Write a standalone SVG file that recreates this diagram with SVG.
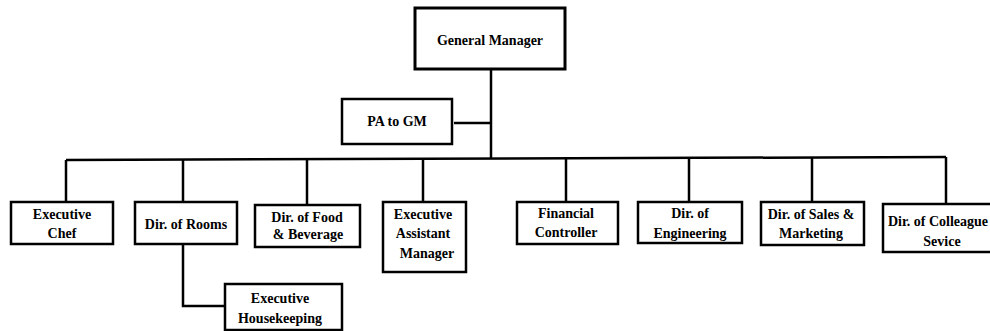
<svg xmlns="http://www.w3.org/2000/svg" width="990" height="331" viewBox="0 0 990 331">
<style>
.box{fill:#fff;stroke:#000;stroke-width:2.5}
.gm{stroke-width:3}
.ln{fill:none;stroke:#000;stroke-width:2.5}
text{font-family:"Liberation Serif","Times New Roman",serif;font-weight:bold;font-size:14px;fill:#000;text-anchor:middle}
</style>
<rect width="990" height="331" fill="#fff"/>
<g id="connectors">
<path class="ln" d="M491 69 V158.5"/>
<path class="ln" d="M454 123 H491"/>
<path class="ln" d="M66 160 L946 157"/>
<path class="ln" d="M66 160 V202"/>
<path class="ln" d="M183 160 V202"/>
<path class="ln" d="M307 159.5 V205"/>
<path class="ln" d="M423 159 V202"/>
<path class="ln" d="M566 158.5 V202"/>
<path class="ln" d="M689 158 V202"/>
<path class="ln" d="M812 157.5 V202"/>
<path class="ln" d="M946 157 V203"/>
<path class="ln" d="M183 244 V306 H225"/>
</g>
<g id="gm"><rect class="box gm" x="415" y="8" width="150" height="61"/><text x="490" y="45">General Manager</text></g>
<g id="pa"><rect class="box" x="342" y="99" width="110" height="45"/><text x="397" y="126">PA to GM</text></g>
<g id="chef"><rect class="box" x="11" y="202" width="102" height="42"/><text x="62" y="219">Executive</text><text x="62" y="238">Chef</text></g>
<g id="rooms"><rect class="box" x="135" y="202" width="102" height="42"/><text x="186" y="229">Dir. of Rooms</text></g>
<g id="fb"><rect class="box" x="255" y="205" width="105" height="42"/><text x="307" y="222">Dir. of Food</text><text x="308" y="239">&amp; Beverage</text></g>
<g id="eam"><rect class="box" x="383" y="202" width="83" height="70"/><text x="423" y="219">Executive</text><text x="423" y="238">Assistant</text><text x="427" y="258">Manager</text></g>
<g id="fc"><rect class="box" x="517" y="202" width="101" height="42"/><text x="566" y="218">Financial</text><text x="566" y="237">Controller</text></g>
<g id="eng"><rect class="box" x="638" y="202" width="104" height="41"/><text x="690" y="218">Dir. of</text><text x="690" y="238">Engineering</text></g>
<g id="sales"><rect class="box" x="761" y="202" width="103" height="43"/><text x="811" y="219">Dir. of Sales &amp;</text><text x="811" y="238">Marketing</text></g>
<g id="colleague"><rect class="box" x="883" y="204" width="120" height="48"/><text x="938" y="226">Dir. of Colleague</text><text x="942" y="246">Sevice</text></g>
<g id="hk"><rect class="box" x="225" y="284" width="117" height="46"/><text x="280" y="303">Executive</text><text x="280" y="323">Housekeeping</text></g>
</svg>
